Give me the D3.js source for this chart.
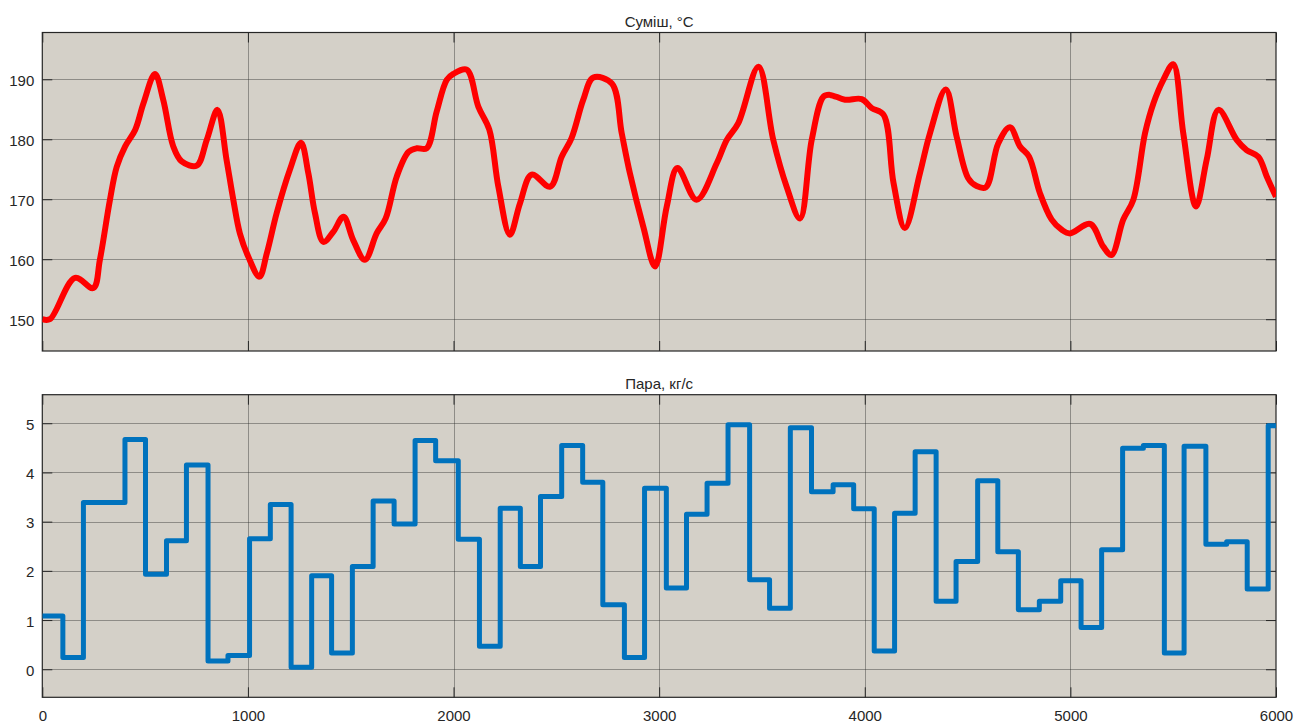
<!DOCTYPE html>
<html>
<head>
<meta charset="utf-8">
<script src="https://cdn.jsdelivr.net/npm/d3@7"></script>
<style>
  html, body { margin: 0; padding: 0; background: #ffffff; }
  text { font-family: "Liberation Sans", Arial, sans-serif; fill: #262626; }
</style>
</head>
<body>
<svg id="chart" width="1295" height="724"></svg>
<script>
// Mixture temperature, °C (smooth trace)
const mixTime = [0, 37, 159, 248, 280, 329, 362, 403, 452, 492, 548, 588, 637, 678, 751, 800, 852, 896, 929, 961,
  1002, 1056, 1092, 1140, 1204, 1258, 1294, 1326, 1367, 1416, 1465, 1512, 1569, 1626, 1670, 1724, 1781, 1821, 1869, 1918,
  1967, 1999, 2064, 2121, 2174, 2218, 2274, 2323, 2380, 2470, 2526, 2574, 2631, 2680, 2770, 2818, 2858, 2923, 2980, 3037,
  3089, 3182, 3280, 3329, 3385, 3483, 3555, 3620, 3685, 3742, 3799, 3830, 3904, 3985, 4034, 4091, 4140, 4195, 4268, 4317,
  4394, 4447, 4503, 4544, 4589, 4649, 4706, 4755, 4799, 4852, 4909, 4958, 4998, 5096, 5160, 5200, 5257, 5306, 5363, 5404,
  5452, 5500, 5549, 5611, 5663, 5720, 5809, 5857, 5914, 5955, 6000];
const mixTemp = [150.0, 150.0, 156.9, 155.2, 159.9, 169.9, 175.4, 178.8, 181.6, 186.0, 190.9, 186.6, 178.8, 176.3, 175.6, 179.9, 184.9, 176.6, 169.9, 164.3,
  160.4, 157.1, 161.0, 167.7, 174.9, 179.4, 174.3, 167.7, 162.9, 164.6, 167.1, 163.2, 159.9, 164.3, 166.8, 173.8, 177.9, 178.5, 178.5, 184.6,
  189.9, 190.9, 191.6, 185.4, 181.6, 172.1, 164.1, 169.3, 174.1, 172.1, 177.1, 180.2, 186.6, 190.3, 189.3, 181.0, 174.3, 165.4, 158.8, 168.8,
  175.2, 169.9, 176.0, 179.9, 182.7, 192.1, 179.9, 172.1, 166.8, 179.9, 187.1, 187.4, 186.6, 186.7, 185.2, 184.1, 172.7, 165.2, 174.3, 181.0,
  188.3, 180.4, 173.5, 172.2, 172.0, 179.3, 182.0, 178.8, 177.1, 171.0, 166.6, 164.9, 164.3, 165.9, 162.1, 160.7, 166.6, 169.9, 181.0, 186.0,
  189.9, 192.5, 181.0, 168.8, 176.6, 184.9, 179.9, 178.2, 177.1, 173.8, 170.4];

// Steam flow, kg/s (piecewise constant)
const steamTime = [0, 100, 200, 402, 502, 604, 701, 806, 903, 1008, 1109, 1210, 1310, 1407, 1508, 1609, 1711, 1813, 1913, 2023,
  2126, 2227, 2325, 2423, 2526, 2628, 2726, 2831, 2929, 3035, 3133, 3233, 3335, 3440, 3537, 3638, 3741, 3846, 3946, 4046,
  4145, 4245, 4347, 4444, 4549, 4647, 4747, 4849, 4953, 5052, 5152, 5254, 5355, 5457, 5553, 5659, 5760, 5860, 5962];
const steamFlow = [1.08, 0.24, 3.39, 4.67, 1.93, 2.61, 4.15, 0.17, 0.28, 2.65, 3.35, 0.04, 1.90, 0.33, 2.09, 3.42, 2.95, 4.65, 4.24, 2.64,
  0.47, 3.27, 2.09, 3.51, 4.55, 3.80, 1.31, 0.24, 3.68, 1.65, 3.15, 3.78, 4.97, 1.82, 1.24, 4.91, 3.61, 3.75, 3.26, 0.37,
  3.17, 4.42, 1.38, 2.19, 3.83, 2.39, 1.21, 1.38, 1.80, 0.85, 2.43, 4.49, 4.55, 0.33, 4.53, 2.54, 2.59, 1.63, 4.95];

const xTicks = [0, 1000, 2000, 3000, 4000, 5000, 6000];
const mixTicks = [150, 160, 170, 180, 190];
const steamTicks = [0, 1, 2, 3, 4, 5];

const svg = d3.select("#chart");
const left = 42.3, right = 1276;
const tEnd = 6000;
const fontPx = 15;

const x = d3.scaleLinear().domain([0, tEnd]).range([left, right]);

function panel(opts) {
  const { top, bottom, yDomain, yTicks, title, showX, id } = opts;
  const y = d3.scaleLinear().domain(yDomain).range([bottom, top]);
  const g = svg.append("g");

  g.append("rect")
    .attr("x", left).attr("y", top)
    .attr("width", right - left).attr("height", bottom - top)
    .attr("fill", "#d4d0c8");

  // grid
  g.append("g").selectAll("line").data(xTicks.slice(1, -1)).join("line")
    .attr("x1", d => Math.round(x(d)) + 0.5).attr("x2", d => Math.round(x(d)) + 0.5)
    .attr("y1", top).attr("y2", bottom)
    .attr("stroke", "#262626").attr("stroke-opacity", 0.4).attr("stroke-width", 1);
  g.append("g").selectAll("line").data(yTicks).join("line")
    .attr("x1", left).attr("x2", right)
    .attr("y1", d => Math.round(y(d)) + 0.5).attr("y2", d => Math.round(y(d)) + 0.5)
    .attr("stroke", "#262626").attr("stroke-opacity", 0.4).attr("stroke-width", 1);

  // clip
  svg.append("clipPath").attr("id", id)
    .append("rect").attr("x", left).attr("y", top)
    .attr("width", right - left).attr("height", bottom - top);

  // axes (ticks inward on all four sides)
  const tl = 10;
  const axB = g.append("g").attr("transform", `translate(0,${bottom})`)
    .call(d3.axisBottom(x).tickValues(xTicks).tickSizeInner(-tl).tickSizeOuter(0)
      .tickFormat(showX ? d3.format("d") : () => ""));
  const axT = g.append("g").attr("transform", `translate(0,${top})`)
    .call(d3.axisTop(x).tickValues(xTicks).tickSizeInner(-tl).tickSizeOuter(0).tickFormat(() => ""));
  const axL = g.append("g").attr("transform", `translate(${left},0)`)
    .call(d3.axisLeft(y).tickValues(yTicks).tickSizeInner(-tl).tickSizeOuter(0).tickFormat(d3.format("d")));
  const axR = g.append("g").attr("transform", `translate(${right},0)`)
    .call(d3.axisRight(y).tickValues(yTicks).tickSizeInner(-tl).tickSizeOuter(0).tickFormat(() => ""));
  [axB, axT, axL, axR].forEach(a => {
    a.select(".domain").remove();
    a.selectAll("line").attr("stroke", "#262626");
    a.selectAll("text").attr("font-size", fontPx)
      .style("font-family", "'Liberation Sans', Arial, sans-serif").attr("fill", "#262626");
  });
  axL.selectAll("text").attr("x", -8).attr("dy", "0.4em");
  axB.selectAll("text").attr("y", 13);

  // frame
  g.append("rect")
    .attr("x", left).attr("y", top)
    .attr("width", right - left).attr("height", bottom - top)
    .attr("fill", "none").attr("stroke", "#262626").attr("stroke-width", 1.2);

  g.append("text")
    .attr("x", (left + right) / 2).attr("y", top - 6)
    .attr("text-anchor", "middle").attr("font-size", fontPx)
    .text(title);

  return { g, y };
}

// upper panel: mixture temperature
const p1 = panel({ top: 32.5, bottom: 351, yDomain: [144.7, 197.8], yTicks: mixTicks,
  title: "Суміш, °C", showX: false, id: "clipTop" });
const mixData = mixTime.map((t, i) => [t, mixTemp[i]]);
p1.g.append("path")
  .datum(mixData)
  .attr("clip-path", "url(#clipTop)")
  .attr("fill", "none").attr("stroke", "#ff0000").attr("stroke-width", 6)
  .attr("stroke-linejoin", "round").attr("stroke-linecap", "butt")
  .attr("d", d3.line().x(d => x(d[0])).y(d => p1.y(d[1])).curve(d3.curveCatmullRom.alpha(0.5)));

// lower panel: steam flow
const p2 = panel({ top: 394.7, bottom: 697.3, yDomain: [-0.57, 5.58], yTicks: steamTicks,
  title: "Пара, кг/с", showX: true, id: "clipBottom" });
const steamData = steamTime.map((t, i) => [t, steamFlow[i]]);
steamData.push([tEnd, steamFlow[steamFlow.length - 1]]);
p2.g.append("path")
  .datum(steamData)
  .attr("clip-path", "url(#clipBottom)")
  .attr("fill", "none").attr("stroke", "#0072bd").attr("stroke-width", 5)
  .attr("stroke-linejoin", "round").attr("stroke-linecap", "butt")
  .attr("d", d3.line().x(d => x(d[0])).y(d => p2.y(d[1])).curve(d3.curveStepAfter));
</script>
</body>
</html>
